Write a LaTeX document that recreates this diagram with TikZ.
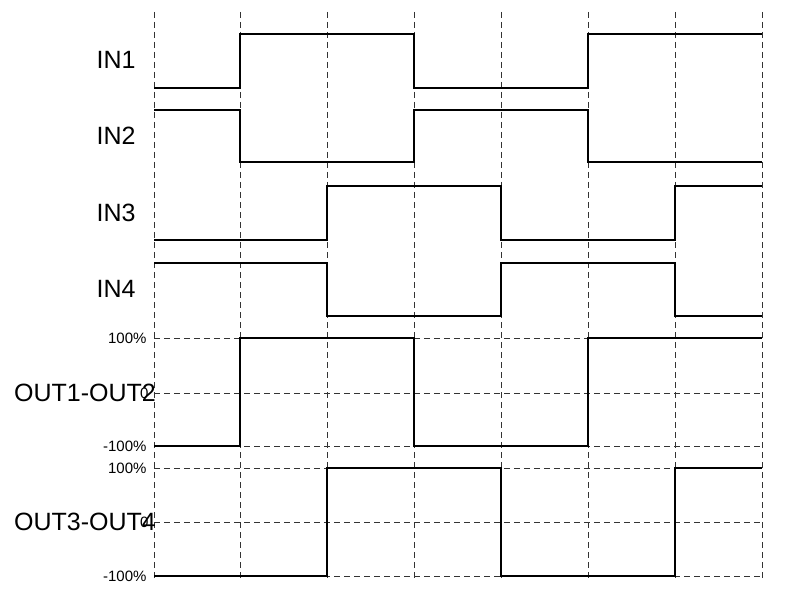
\documentclass[tikz,border=0pt]{standalone}
\usepackage{fontspec}
\setmainfont{Liberation Sans}
\begin{document}
\begin{tikzpicture}[x=1pt,y=-1pt,
  grid/.style={line width=0.6pt,dash pattern=on 6pt off 4pt,black!80},
  wave/.style={line width=1.4pt,line join=miter},
  sig/.style={font=\fontsize{25}{28}\selectfont,anchor=center},
  tick/.style={font=\fontsize{15}{17}\selectfont,anchor=east}]
\useasboundingbox (0,0) rectangle (789,596);
\foreach \x in {154,240,327,414,501,588,675,762}
  \draw[grid] (\x,12) -- (\x,578);
\foreach \y in {338,393,446,468,522,576}
  \draw[grid] (154,\y) -- (762,\y);
% IN1
\draw[wave] (154,88) -- (240,88) -- (240,34) -- (414,34) -- (414,88) -- (588,88) -- (588,34) -- (762,34);
% IN2
\draw[wave] (154,110) -- (240,110) -- (240,162) -- (414,162) -- (414,110) -- (588,110) -- (588,162) -- (762,162);
% IN3
\draw[wave] (154,240) -- (327,240) -- (327,186) -- (501,186) -- (501,240) -- (675,240) -- (675,186) -- (762,186);
% IN4
\draw[wave] (154,263) -- (327,263) -- (327,316) -- (501,316) -- (501,263) -- (675,263) -- (675,316) -- (762,316);
% OUT1-OUT2
\draw[wave] (154,446) -- (240,446) -- (240,338) -- (414,338) -- (414,446) -- (588,446) -- (588,338) -- (762,338);
% OUT3-OUT4
\draw[wave] (154,576) -- (327,576) -- (327,468) -- (501,468) -- (501,576) -- (675,576) -- (675,468) -- (762,468);
\node[sig] (l1) at (116,60) {IN1};
\node[sig] (l2) at (116,136) {IN2};
\node[sig] (l3) at (116,213) {IN3};
\node[sig] (l4) at (116,289) {IN4};
\node[sig] (l5) at (85,393) {OUT1-OUT2};
\node[sig] (l6) at (85,522) {OUT3-OUT4};
\node[tick] (t1) at (150,338) {100\%};
\node[tick] (t2) at (152,393) {0};
\node[tick] (t3) at (150,446) {-100\%};
\node[tick] (t4) at (150,468) {100\%};
\node[tick] (t5) at (152,522) {0};
\node[tick] (t6) at (150,576) {-100\%};
\end{tikzpicture}
\end{document}
